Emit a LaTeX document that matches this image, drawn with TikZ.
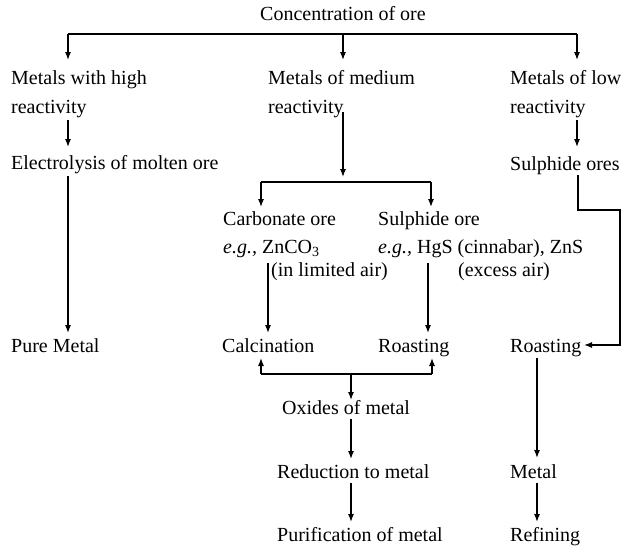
\documentclass[tikz,border=0pt]{standalone}
\usepackage{fontspec}
\setmainfont{Liberation Serif}
\usetikzlibrary{arrows.meta}
\begin{document}
\begin{tikzpicture}[x=1pt,y=-1pt,
  lbl/.style={anchor=base west,inner sep=0pt,font=\fontsize{20}{24}\selectfont},
  conn/.style={line width=1.2pt},
  arr/.style={conn,-{Latex[length=8pt,width=6pt]}}]
\useasboundingbox (0,0) rectangle (628,558);
% labels
\node[lbl] (conc) at (260,20) {Concentration of ore};
\node[lbl] (high1) at (11,84) {Metals with high};
\node[lbl] (high2) at (11,113) {reactivity};
\node[lbl] (med1) at (268,84) {Metals of medium};
\node[lbl] (med2) at (268,113) {reactivity};
\node[lbl] (low1) at (510,84) {Metals of low};
\node[lbl] (low2) at (510,113) {reactivity};
\node[lbl] (elec) at (11,169) {Electrolysis of molten ore};
\node[lbl] (sulores) at (510,170) {Sulphide ores};
\node[lbl] (carb) at (223,225) {Carbonate ore};
\node[lbl] (carbeg) at (223,253) {\textit{e.g.,} ZnCO\textsubscript{3}};
\node[lbl] (limair) at (271,276) {(in limited air)};
\node[lbl] (sul) at (378,225) {Sulphide ore};
\node[lbl] (suleg) at (378,253) {\textit{e.g.,} HgS (cinnabar), ZnS};
\node[lbl] (excair) at (458,276) {(excess air)};
\node[lbl] (pure) at (11,352) {Pure Metal};
\node[lbl] (calc) at (222,352) {Calcination};
\node[lbl] (roast) at (378,352) {Roasting};
\node[lbl] (roast2) at (510,352) {Roasting};
\node[lbl] (oxide) at (282,414) {Oxides of metal};
\node[lbl] (reduc) at (277,478) {Reduction to metal};
\node[lbl] (purif) at (277,541) {Purification of metal};
\node[lbl] (metal) at (510,478) {Metal};
\node[lbl] (refin) at (510,541) {Refining};
% coordinates
\coordinate (busL) at (68,34);
\coordinate (busM) at (343,34);
\coordinate (busR) at (577,34);
\coordinate (tHigh) at (68,60);
\coordinate (tMed) at (343,60);
\coordinate (tLow) at (577,60);
\coordinate (sHigh) at (68,120);
\coordinate (eElec) at (68,147);
\coordinate (sElec) at (68,176);
\coordinate (ePure) at (68,333);
\coordinate (sMed) at (343,112);
\coordinate (eMed) at (343,177);
\coordinate (bus2L) at (261,182);
\coordinate (bus2R) at (431,182);
\coordinate (tCarb) at (261,207);
\coordinate (tSul) at (431,207);
\coordinate (sCarb) at (268,263);
\coordinate (eCalc) at (268,333);
\coordinate (sSul) at (428,263);
\coordinate (eRoast) at (428,333);
\coordinate (sLow) at (577,120);
\coordinate (eLow) at (577,147);
\coordinate (sOres) at (578,175);
\coordinate (k1) at (578,210);
\coordinate (k2) at (620,210);
\coordinate (k3) at (620,345);
\coordinate (eRoast2) at (584,345);
\coordinate (bus3L) at (261,374);
\coordinate (bus3M) at (351,374);
\coordinate (bus3R) at (432,374);
\coordinate (uCalc) at (261,358);
\coordinate (uRoast) at (432,358);
\coordinate (tOxide) at (351,400);
\coordinate (sOxide) at (351,419);
\coordinate (tReduc) at (351,459);
\coordinate (sReduc) at (351,483);
\coordinate (tPurif) at (351,522);
\coordinate (sRoast2) at (537,358);
\coordinate (tMetal) at (537,458);
\coordinate (sMetal) at (537,483);
\coordinate (tRefin) at (537,522);
% connectors
\draw[conn] (busL) -- (busR);
\draw[arr] (busL) -- (tHigh);
\draw[arr] (busM) -- (tMed);
\draw[arr] (busR) -- (tLow);
\draw[arr] (sHigh) -- (eElec);
\draw[arr] (sElec) -- (ePure);
\draw[arr] (sMed) -- (eMed);
\draw[conn] (bus2L) -- (bus2R);
\draw[arr] (bus2L) -- (tCarb);
\draw[arr] (bus2R) -- (tSul);
\draw[arr] (sCarb) -- (eCalc);
\draw[arr] (sSul) -- (eRoast);
\draw[arr] (sLow) -- (eLow);
\draw[arr] (sOres) -- (k1) -- (k2) -- (k3) -- (eRoast2);
\draw[conn] (bus3L) -- (bus3R);
\draw[arr] (bus3L) -- (uCalc);
\draw[arr] (bus3R) -- (uRoast);
\draw[arr] (bus3M) -- (tOxide);
\draw[arr] (sOxide) -- (tReduc);
\draw[arr] (sReduc) -- (tPurif);
\draw[arr] (sRoast2) -- (tMetal);
\draw[arr] (sMetal) -- (tRefin);
\end{tikzpicture}
\end{document}
